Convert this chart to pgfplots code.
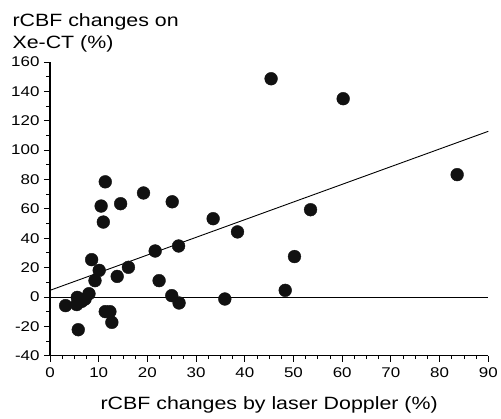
\documentclass[border=0pt]{standalone}
\usepackage{fontspec}
\setmainfont[FakeStretch=1.2]{Liberation Sans}
\usepackage{pgfplots}
\pgfplotsset{compat=1.18}

\definecolor{dotblack}{RGB}{17,17,17}

\begin{document}
\begin{tikzpicture}
\begin{axis}[
scale only axis,
width=438.3pt, height=293.7pt,
xmin=0, xmax=90,
ymin=-40, ymax=160,
axis lines=left,
axis line style={line width=1.1pt, -},
xtick={0,10,...,90},
ytick={-40,-20,...,160},
minor x tick num=3,
minor y tick num=1,
tick align=outside,
major tick length=6pt,
minor tick length=3.5pt,
every tick/.style={line width=0.9pt, black},
/pgf/number format/assume math mode=true,
tick label style={font=\fontsize{14.1}{16}\selectfont},
xticklabel style={yshift=-2pt},
yticklabel style={xshift=-1pt},
xlabel style={font=\fontsize{17.8}{22.7}\selectfont, yshift=-13pt},
xlabel={rCBF changes by laser Doppler (\%)},
every axis y label/.style={at={(rel axis cs:0,1)}, anchor=south west, align=left,
  xshift=-41pt, yshift=6pt, font=\fontsize{17.8}{22.7}\selectfont},
ylabel={rCBF changes on\\Xe-CT (\%)},
clip=false,
]
\coordinate (o) at (rel axis cs:0,0);
\coordinate (t) at (rel axis cs:1,1);

% regression line and zero line
\addplot [line width=0.9pt, black] coordinates {(0,4.5) (90,112.8)};
\addplot [line width=0.9pt, black] coordinates {(0,0) (90,0)};

\addplot [only marks, mark=*, mark size=6.4pt, mark options={fill=dotblack, draw=dotblack}]
table {%
3.2 -5.9
5.5 -5.2
5.6 -0.3
6.5 -3.0
7.2 -1.4
8.0 2.2
5.8 -22.3
9.24 11.1
8.55 25.4
10.1 18.1
10.5 61.9
10.95 51.0
11.35 78.4
11.35 -10.0
12.3 -10.0
12.7 -17.3
13.8 14.0
14.5 63.5
16.1 20.2
19.2 70.8
21.6 31.3
22.4 11.1
25.1 64.8
25.0 0.9
26.4 34.7
26.5 -4.1
33.5 53.3
35.9 -1.4
38.5 44.3
45.4 148.6
48.3 4.5
50.2 27.5
53.5 59.4
60.2 135.0
83.6 83.3
};
\end{axis}
\pgfresetboundingbox
\path[use as bounding box] ([shift={(-50pt,-63.3pt)}]o) rectangle ([shift={(12.7pt,62pt)}]t);
\end{tikzpicture}
\end{document}
